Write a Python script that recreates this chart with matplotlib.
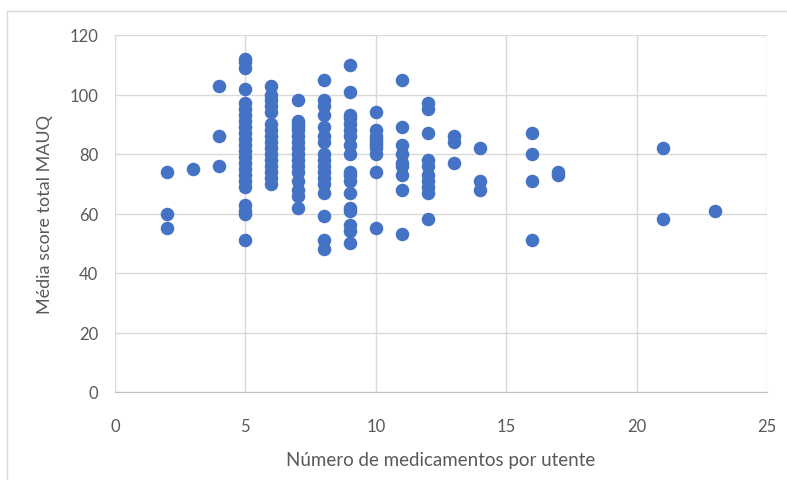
import matplotlib
matplotlib.use("Agg")
import matplotlib.pyplot as plt
from matplotlib.patches import Rectangle

# Data: number of medications per user (x) and MAUQ mean score (y)
x2 = [2, 2, 2]
y2 = [74, 60, 55]
x3 = [3]
y3 = [75]
x4 = [4, 4, 4]
y4 = [103, 86, 76]
y5 = [112, 111, 109, 102, 97, 95, 93, 91, 89, 87, 85, 83, 81, 79, 77, 75, 73, 71, 69, 63, 61, 60, 51]
y6 = [103, 100, 98, 96, 94, 90, 88, 86, 84, 82, 80, 78, 76, 74, 72, 70]
y7 = [98, 91, 90, 89, 88, 86, 84, 82, 80, 78, 76, 74, 71, 68, 66, 62]
y8 = [105, 98, 96, 93, 89, 86, 84, 80, 78, 76, 74, 72, 70, 67, 59, 51, 48]
y9 = [110, 101, 93, 92, 90, 88, 86, 83, 80, 74, 73, 71, 67, 62, 61, 56, 54, 50]
y10 = [94, 88, 86, 85, 84, 83, 82, 80, 74, 55]
y11 = [105, 89, 83, 80, 77, 76, 73, 68, 53]
y12 = [97, 95, 87, 78, 76, 73, 71, 69, 67, 58]
y13 = [86, 84, 77]
y14 = [82, 71, 68]
y16 = [87, 80, 71, 51]
y17 = [74, 73]
y21 = [82, 58]
y23 = [61]

groups = {2: y2, 3: y3, 4: y4, 5: y5, 6: y6, 7: y7, 8: y8, 9: y9, 10: y10,
          11: y11, 12: y12, 13: y13, 14: y14, 16: y16, 17: y17, 21: y21, 23: y23}
xs, ys = [], []
for k, vals in groups.items():
    xs += [k] * len(vals)
    ys += vals

x_ticks = [0, 5, 10, 15, 20, 25]
y_ticks = [0, 20, 40, 60, 80, 100, 120]

plt.rcParams['font.family'] = ['Lato', 'DejaVu Sans']

fig = plt.figure(figsize=(7.87, 4.81), dpi=100)
fig.patches.append(Rectangle((7 / 787, -0.01), 1.02, 1 - 12 / 481 + 0.01,
                             transform=fig.transFigure, fill=False,
                             edgecolor='#d9d9d9', linewidth=1.0))
ax = fig.add_axes([115 / 787, 1 - 393 / 481, (767 - 115) / 787, (393 - 36) / 481])

ax.scatter(xs, ys, s=95, color='#4472C4', zorder=3, linewidths=0)

ax.set_xlim(0, 25)
ax.set_ylim(0, 120)
ax.set_xticks(x_ticks)
ax.set_yticks(y_ticks)
ax.grid(True, color='#d9d9d9', linewidth=1.0, zorder=0)
ax.set_axisbelow(True)
for s in ['top', 'right', 'left']:
    ax.spines[s].set_visible(False)
ax.spines['bottom'].set_color('#bfbfbf')
ax.tick_params(axis='both', length=0, labelsize=12, colors='#595959')
ax.tick_params(axis='x', pad=19)
ax.tick_params(axis='y', pad=12)
ax.set_xlabel('Número de medicamentos por utente', fontsize=13.5, color='#595959', labelpad=12)
ax.set_ylabel('Média score total MAUQ', fontsize=13, color='#595959', labelpad=12)

fig.savefig('out.png', dpi=100)
